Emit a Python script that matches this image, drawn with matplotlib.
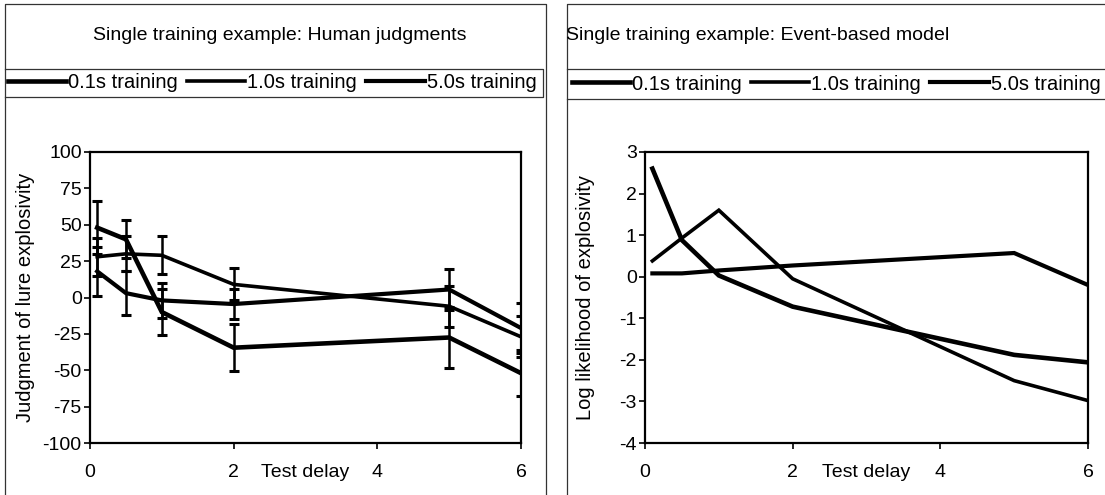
import matplotlib
matplotlib.use("Agg")
import matplotlib.pyplot as plt
from matplotlib.lines import Line2D

plt.rcParams["font.family"] = ["Liberation Sans", "DejaVu Sans"]
plt.rcParams["axes.unicode_minus"] = False

# test delays (s) shared by both panels
delays = [0.1, 0.5, 1, 2, 5, 6]
labels = ["0.1s training", "1.0s training", "5.0s training"]

# human judgments of lure explosivity, with error bars
human_01 = [48, 40, -10, -34.5, -27.5, -52]
human_10 = [28, 30, 29, 9, -6, -27]
human_50 = [18, 3, -2, -4.5, 5.5, -21]
human_err_01 = [18, 13, 15.5, 16, 21, 16]
human_err_10 = [13, 12, 13, 11, 14, 14]
human_err_50 = [17, 15, 12, 10, 14, 17]

# event-based model, log likelihood of explosivity
model_01 = [2.6, 0.88, 0.03, -0.72, -1.88, -2.06]
model_10 = [0.38, 0.93, 1.6, -0.05, -2.5, -2.98]
model_50 = [0.08, 0.08, 0.15, 0.27, 0.57, -0.2]

W, H = 1105, 495
FS = 14
widths = [3.3, 2.6, 3.0]


def fx(x):
    return x / W


def fy(y):
    return 1 - y / H


def frame_line(fig, xs, ys):
    fig.add_artist(Line2D([fx(v) for v in xs], [fy(v) for v in ys],
                          color="#333333", lw=0.9))


def style_axes(ax, ylim, yticks, ylabel, ylabel_x):
    ax.set_xlim(0, 6)
    ax.set_ylim(*ylim)
    ax.set_xticks([0, 2, 4, 6])
    ax.set_yticks(yticks)
    for s in ax.spines.values():
        s.set_linewidth(1.6)
    ax.tick_params(axis="both", direction="out", length=4, width=1.2,
                   labelsize=FS)
    ax.tick_params(axis="x", pad=11)
    ax.tick_params(axis="y", pad=2)
    ax.set_xlabel("Test delay", fontsize=FS)
    ax.xaxis.label.set_va("center")
    ax.xaxis.set_label_coords(0.5, -0.1)
    ax.set_ylabel(ylabel, fontsize=14.5)
    ax.yaxis.label.set_va("center")
    ax.yaxis.set_label_coords(ylabel_x, 0.5)


def add_legend(fig, handles, cx, cy):
    fig.legend(handles, labels, loc="center", ncol=3,
               bbox_to_anchor=(fx(cx), fy(cy)), frameon=False,
               borderpad=0, handlelength=2.9, handletextpad=0.1,
               columnspacing=0.45, fontsize=14.5)


fig = plt.figure(figsize=(W / 100, H / 100), dpi=100)

# left panel: human judgments
ax1 = fig.add_axes([fx(90), fy(443), fx(521 - 90), (443 - 152) / H])
human = [(human_01, human_err_01), (human_10, human_err_10), (human_50, human_err_50)]
h1 = []
for (vals, err), lw in zip(human, widths):
    eb = ax1.errorbar(delays, vals, yerr=err, color="black", lw=lw,
                      elinewidth=1.8, capsize=3.6, capthick=2.2)
    eb.lines[0].set_solid_joinstyle("miter")
    h1.append(Line2D([], [], color="black", lw=lw))
style_axes(ax1, (-100, 100), range(-100, 101, 25),
           "Judgment of lure explosivity", -0.15)

# right panel: event-based model
ax2 = fig.add_axes([fx(645), fy(443), fx(1088 - 645), (443 - 152) / H])
h2 = []
for vals, lw in zip([model_01, model_10, model_50], widths):
    line, = ax2.plot(delays, vals, color="black", lw=lw, solid_joinstyle="miter")
    h2.append(line)
style_axes(ax2, (-4, 3), range(-4, 4), "Log likelihood of explosivity", -0.134)

# panel frames and legend boxes
frame_line(fig, [5, 5, 546, 546], [495, 4, 4, 495])
frame_line(fig, [5, 543, 543, 5], [69, 69, 97, 97])
frame_line(fig, [567, 567, 1105], [495, 4, 4])
frame_line(fig, [567, 1105], [69, 69])
frame_line(fig, [567, 1105], [99, 99])

fig.text(fx(280), fy(35), "Single training example: Human judgments",
         ha="center", va="center", fontsize=FS)
fig.text(fx(758), fy(35), "Single training example: Event-based model",
         ha="center", va="center", fontsize=FS)
add_legend(fig, h1, 272, 83)
add_legend(fig, h2, 836, 84)

fig.savefig("out.png", dpi=100)
